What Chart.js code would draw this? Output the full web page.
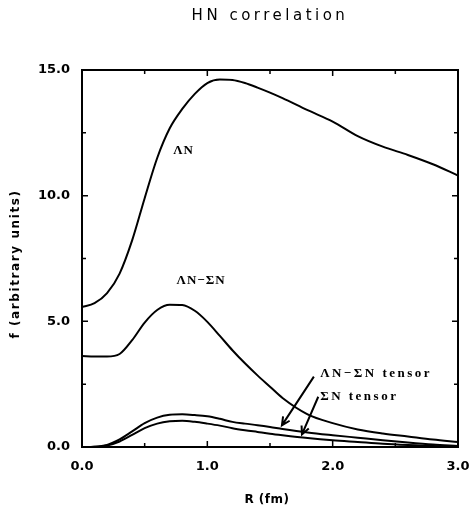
<!DOCTYPE html>
<html>
<head>
<meta charset="utf-8">
<title>HN correlation</title>
<script src="https://cdn.jsdelivr.net/npm/chart.js@4.4.1/dist/chart.umd.min.js"></script>
<style>
  html, body { margin: 0; padding: 0; background: #fff; }
</style>
</head>
<body>
<canvas id="chart" width="471" height="508"></canvas>
<script>
// R grid (fm) shared by all curves
const rValues = [0, 0.1, 0.2, 0.3, 0.4, 0.5, 0.6, 0.7, 0.8, 0.9, 1.0, 1.1, 1.2, 1.3, 1.4, 1.5, 1.6, 1.8, 2.0, 2.2, 2.4, 2.6, 2.8, 3.0];

// f (arbitrary units)
const anValues = [5.57, 5.72, 6.12, 6.9, 8.22, 9.9, 11.5, 12.68, 13.45, 14.05, 14.48, 14.62, 14.6, 14.48, 14.3, 14.1, 13.88, 13.4, 12.95, 12.37, 11.95, 11.62, 11.25, 10.8];
const anSnValues = [3.62, 3.6, 3.6, 3.7, 4.25, 4.95, 5.45, 5.66, 5.65, 5.42, 4.98, 4.42, 3.85, 3.33, 2.85, 2.4, 1.95, 1.3, 0.95, 0.7, 0.54, 0.42, 0.3, 0.2];
const anSnTensorValues = [0, 0.01, 0.08, 0.3, 0.62, 0.95, 1.17, 1.28, 1.3, 1.27, 1.22, 1.12, 1.0, 0.93, 0.87, 0.8, 0.72, 0.58, 0.47, 0.37, 0.27, 0.18, 0.1, 0.04];
const snTensorValues = [0, 0.01, 0.06, 0.22, 0.48, 0.75, 0.93, 1.02, 1.04, 1.0, 0.93, 0.85, 0.75, 0.67, 0.6, 0.53, 0.47, 0.36, 0.27, 0.2, 0.13, 0.08, 0.04, 0.02];

// axis ticks
const xTicks = [0, 1, 2, 3];
const xMinorTicks = [0.5, 1.5, 2.5];
const yTicks = [0, 5, 10, 15];
const yMinorTicks = [2.5, 7.5, 12.5];

// curve labels and arrows, in data coordinates
const labelTexts = ['ΛN', 'ΛN−ΣN', 'ΛN−ΣN tensor', 'ΣN tensor'];
const labelR = [0.81, 0.95, 1.90, 1.90];
const labelF = [11.78, 6.6, 2.9, 1.99];
const arrowFrom = [[1.85, 2.8], [1.885, 2.0]];
const arrowTo = [[1.595, 0.86], [1.755, 0.5]];

const toPoints = values => values.map((v, i) => ({ x: rValues[i], y: v }));

function curve(label, values) {
    return {
        label: label,
        data: toPoints(values),
        borderColor: '#000',
        borderWidth: 2,
        pointRadius: 0,
        fill: false,
        cubicInterpolationMode: 'monotone'
    };
}

// frame, inward ticks, titles, curve labels and arrows
const decorations = {
    id: 'decorations',
    afterDraw(chart) {
        const ctx = chart.ctx;
        const area = chart.chartArea;
        const xs = chart.scales.x;
        const ys = chart.scales.y;

        ctx.save();
        ctx.strokeStyle = '#000';
        ctx.lineWidth = 2;
        ctx.strokeRect(area.left, area.top, area.right - area.left, area.bottom - area.top);

        ctx.lineWidth = 1.5;
        ctx.beginPath();
        const xTick = (v, len) => {
            const px = xs.getPixelForValue(v);
            ctx.moveTo(px, area.bottom); ctx.lineTo(px, area.bottom - len);
            ctx.moveTo(px, area.top); ctx.lineTo(px, area.top + len);
        };
        const yTick = (v, len) => {
            const py = ys.getPixelForValue(v);
            ctx.moveTo(area.left, py); ctx.lineTo(area.left + len, py);
            ctx.moveTo(area.right, py); ctx.lineTo(area.right - len, py);
        };
        xTicks.forEach(v => xTick(v, 6));
        xMinorTicks.forEach(v => xTick(v, 4));
        yTicks.forEach(v => yTick(v, 6));
        yMinorTicks.forEach(v => yTick(v, 4));
        ctx.stroke();

        // title
        ctx.fillStyle = '#000';
        ctx.font = '15px "DejaVu Sans"';
        ctx.letterSpacing = '3.5px';
        ctx.textAlign = 'center';
        ctx.textBaseline = 'middle';
        ctx.fillText('HN correlation', 270, 16);

        // axis titles
        ctx.font = 'bold 12px "DejaVu Sans"';
        ctx.letterSpacing = '0.5px';
        ctx.fillText('R (fm)', 267, 500);
        ctx.save();
        ctx.translate(16, 264);
        ctx.rotate(-Math.PI / 2);
        ctx.letterSpacing = '1.6px';
        ctx.fillText('f (arbitrary units)', 0, 0);
        ctx.restore();

        // curve labels
        ctx.font = 'bold 13px "Liberation Serif"';
        labelTexts.forEach((text, i) => {
            const tensor = text.indexOf('tensor') >= 0;
            ctx.letterSpacing = tensor ? '2.5px' : '1px';
            ctx.textAlign = tensor ? 'left' : 'center';
            ctx.fillText(text, xs.getPixelForValue(labelR[i]), ys.getPixelForValue(labelF[i]));
        });

        // arrows
        ctx.lineWidth = 2;
        arrowFrom.forEach((from, i) => {
            const x1 = xs.getPixelForValue(from[0]), y1 = ys.getPixelForValue(from[1]);
            const x2 = xs.getPixelForValue(arrowTo[i][0]), y2 = ys.getPixelForValue(arrowTo[i][1]);
            const ang = Math.atan2(y2 - y1, x2 - x1);
            const head = 9;
            ctx.beginPath();
            ctx.moveTo(x1, y1);
            ctx.lineTo(x2, y2);
            ctx.moveTo(x2 - head * Math.cos(ang - 0.45), y2 - head * Math.sin(ang - 0.45));
            ctx.lineTo(x2, y2);
            ctx.lineTo(x2 - head * Math.cos(ang + 0.45), y2 - head * Math.sin(ang + 0.45));
            ctx.stroke();
        });
        ctx.restore();
    }
};

const tickFont = { family: 'DejaVu Sans', size: 13, weight: 'bold' };

new Chart(document.getElementById('chart').getContext('2d'), {
    type: 'line',
    data: {
        datasets: [
            curve('ΛN', anValues),
            curve('ΛN−ΣN', anSnValues),
            curve('ΛN−ΣN tensor', anSnTensorValues),
            curve('ΣN tensor', snTensorValues)
        ]
    },
    options: {
        responsive: false,
        animation: false,
        layout: { padding: { top: 70, right: 13, bottom: 0, left: 0 } },
        plugins: {
            legend: { display: false },
            tooltip: { enabled: false }
        },
        scales: {
            x: {
                type: 'linear',
                min: 0,
                max: 3,
                afterFit: scale => {
                    scale.height = 61;
                    scale.paddingLeft = 0;
                    scale.paddingRight = 0;
                },
                afterBuildTicks: scale => { scale.ticks = xTicks.map(v => ({ value: v })); },
                grid: { display: false, drawTicks: false },
                border: { display: false },
                ticks: {
                    color: '#000',
                    font: tickFont,
                    padding: 12,
                    maxRotation: 0,
                    callback: v => v.toFixed(1)
                }
            },
            y: {
                type: 'linear',
                min: 0,
                max: 15,
                afterFit: scale => {
                    scale.width = 82;
                    scale.paddingTop = 0;
                    scale.paddingBottom = 0;
                },
                afterBuildTicks: scale => { scale.ticks = yTicks.map(v => ({ value: v })); },
                grid: { display: false, drawTicks: false },
                border: { display: false },
                ticks: {
                    color: '#000',
                    font: tickFont,
                    padding: 12,
                    callback: v => v.toFixed(1)
                }
            }
        }
    },
    plugins: [decorations]
});
</script>
</body>
</html>
